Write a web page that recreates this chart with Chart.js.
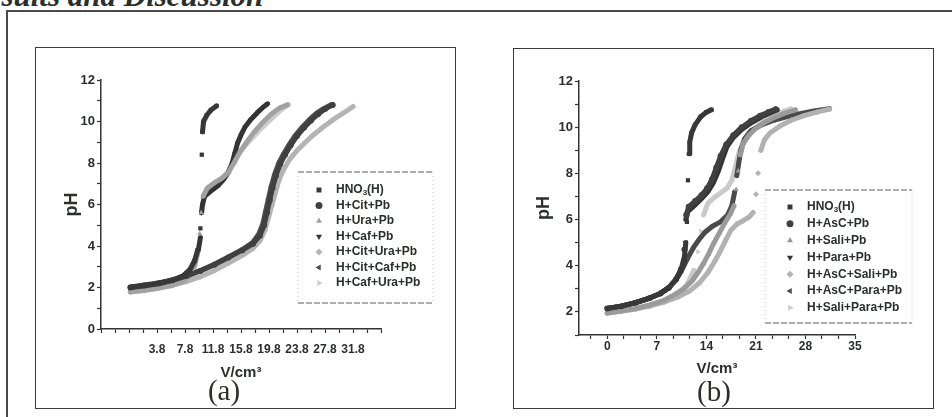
<!DOCTYPE html>
<html>
<head>
<meta charset="utf-8">
<script src="https://cdn.jsdelivr.net/npm/chart.js@4.4.0/dist/chart.umd.min.js"></script>
<style>
  body { margin:0; width:952px; height:417px; background:#fff; position:relative; overflow:hidden; }
  .head { position:absolute; left:-33px; top:-19px; font:italic bold 31px "Liberation Serif", serif; line-height:30px; color:#2b2f2b; white-space:nowrap; }
  .frame { position:absolute; left:6px; top:10px; width:960px; height:420px; border-left:2px solid #4a4a4a; border-top:2px solid #4a4a4a; }
  .box { position:absolute; box-sizing:border-box; border:1.5px solid #3a3a3a; }
  canvas { position:absolute; }
  .tag { position:absolute; width:60px; text-align:center; font:29px "Liberation Serif", serif; line-height:28px; color:#2b2f2b; }
</style>
</head>
<body>
<div class="head">Results and Discussion</div>
<div class="frame"></div>
<div class="box" style="left:35px;top:47px;width:421px;height:362px"></div>
<div class="box" style="left:513px;top:48px;width:421px;height:361px"></div>
<canvas id="chartA" width="420" height="361" style="left:35px;top:47px"></canvas>
<canvas id="chartB" width="420" height="360" style="left:513px;top:48px"></canvas>
<div class="tag" style="left:194px;top:376px">(a)</div>
<div class="tag" style="left:684px;top:377px">(b)</div>
<script>
const INK = '#2b2f2b'

// ---- panel (a) data : [V/cm3, pH]
const labelsA = ['HNO₃(H)', 'H+Cit+Pb', 'H+Ura+Pb', 'H+Caf+Pb', 'H+Cit+Ura+Pb', 'H+Cit+Caf+Pb', 'H+Caf+Ura+Pb']
const hno3A = [[0,2.0],[2,2.08],[4,2.18],[6,2.35],[7.5,2.55],[8.5,2.85],[9.2,3.3],[9.6,3.8],[10.0,4.85],[10.2,8.4],[10.3,9.5],[10.45,10.0],[10.9,10.3],[11.5,10.55],[12.3,10.75]]
const citA = [[0,2.0],[2,2.1],[4,2.2],[6,2.35],[8,2.55],[10,2.8],[12,3.1],[14,3.45],[16,3.8],[17.5,4.1],[18.5,4.5],[19.1,5.0],[19.5,5.6],[19.9,6.2],[20.3,6.8],[20.8,7.4],[21.4,7.95],[22.1,8.4],[22.9,8.85],[23.8,9.3],[24.8,9.7],[25.8,10.05],[26.8,10.35],[27.8,10.6],[28.9,10.8]]
const uraA = [[0,1.8],[2,1.88],[4,1.98],[6,2.12],[7.5,2.3],[8.5,2.6],[9.2,3.1],[9.6,3.7],[9.9,4.6],[10.1,5.6],[10.4,6.4],[11.0,6.8],[12.0,7.05],[13.0,7.25],[14.0,7.55],[14.8,8.0],[15.6,8.5],[16.6,9.0],[17.7,9.5],[18.9,9.95],[20.1,10.35],[21.3,10.65],[22.4,10.8]]
const cafA = [[0,2.0],[2,2.08],[4,2.18],[6,2.35],[7.5,2.55],[8.5,2.85],[9.2,3.3],[9.7,3.8],[10.0,4.4],[10.15,5.6],[10.3,6.0],[10.6,6.4],[11.5,6.65],[12.5,6.9],[13.3,7.2],[13.9,7.5],[14.5,7.95],[14.9,8.45],[15.3,8.95],[15.8,9.35],[16.4,9.75],[17.2,10.1],[18.2,10.45],[19.0,10.7],[19.6,10.85]]
const citUraA = [[0,1.78],[2,1.86],[4,1.96],[6,2.1],[8,2.28],[10,2.52],[12,2.82],[14,3.18],[16,3.55],[17.5,3.88],[18.5,4.25],[19.2,4.75],[19.7,5.35],[20.2,5.95],[20.7,6.55],[21.2,7.15],[21.9,7.7],[22.8,8.2],[23.8,8.6],[25.0,9.0],[26.3,9.4],[27.6,9.75],[29.0,10.1],[30.4,10.4],[31.8,10.72]]
const citCafA = [[0,2.02],[2,2.12],[4,2.22],[6,2.37],[8,2.57],[10,2.82],[12,3.12],[14,3.47],[16,3.83],[17.4,4.15],[18.3,4.55],[18.9,5.05],[19.3,5.65],[19.7,6.25],[20.1,6.85],[20.6,7.45],[21.2,8.0],[21.9,8.45],[22.7,8.9],[23.6,9.35],[24.6,9.75],[25.6,10.1],[26.6,10.4],[27.6,10.62],[28.6,10.8]]
const cafUraA = [[0,1.8],[2,1.87],[4,1.97],[6,2.1],[7.5,2.28],[8.5,2.55],[9.2,3.0],[9.6,3.6],[9.9,4.5],[10.2,5.6],[10.5,6.3],[10.9,6.7],[11.9,7.0],[13.0,7.25],[14.0,7.55],[14.8,8.05],[15.8,8.6],[17.1,9.1],[18.5,9.6],[19.9,10.05],[21.3,10.5],[22.6,10.82]]
const xTicksA = [-4.2,-2.2,-0.2,1.8,3.8,5.8,7.8,9.8,11.8,13.8,15.8,17.8,19.8,21.8,23.8,25.8,27.8,29.8,31.8,33.8,35.8]
const xLabelsA = [3.8,7.8,11.8,15.8,19.8,23.8,27.8,31.8]
const yTicksA = [0,1,2,3,4,5,6,7,8,9,10,11,12]
const yLabelsA = [0,2,4,6,8,10,12]

// ---- panel (b) data : [V/cm3, pH]
const labelsB = ['HNO₃(H)', 'H+AsC+Pb', 'H+Sali+Pb', 'H+Para+Pb', 'H+AsC+Sali+Pb', 'H+AsC+Para+Pb', 'H+Sali+Para+Pb']
const hno3B = [[0,2.15],[2,2.25],[4,2.4],[6,2.6],[7.5,2.8],[8.7,3.05],[9.7,3.4],[10.4,3.8],[10.9,4.4],[11.1,5.0],[11.25,5.9],[11.4,7.7],[11.55,8.85],[11.65,9.35],[11.9,9.75],[12.4,10.1],[13.2,10.45],[14.0,10.65],[14.7,10.75]]
const ascB = [[0,2.15],[2,2.25],[4,2.4],[6,2.6],[7.5,2.8],[8.7,3.05],[9.7,3.4],[10.4,3.85],[10.9,4.7],[11.15,6.2],[11.5,6.55],[12.4,6.8],[13.3,7.05],[14.1,7.35],[14.8,7.75],[15.4,8.25],[16.0,8.75],[16.8,9.25],[17.8,9.65],[19.0,10.0],[20.3,10.28],[21.6,10.5],[22.8,10.66],[23.8,10.78]]
const saliB = [[0,1.95],[2,2.05],[4,2.15],[6,2.3],[8,2.5],[9.5,2.75],[10.8,3.0],[12.0,3.35],[12.9,3.75],[13.6,4.1],[14.3,4.5],[15.0,4.95],[15.8,5.4],[16.6,5.85],[17.4,6.25],[17.9,6.6],[18.2,7.3],[18.5,8.1],[18.8,8.8],[19.2,9.3],[20.0,9.65],[21.0,9.95],[22.2,10.2],[23.6,10.42],[25.0,10.6],[26.6,10.75]]
const paraB = [[0,2.15],[2,2.25],[4,2.4],[6,2.6],[7.5,2.8],[8.7,3.05],[9.7,3.4],[10.4,3.75],[10.9,4.2],[11.0,5.0],[11.1,6.0],[11.4,6.35],[12.3,6.6],[13.3,6.9],[14.2,7.2],[15.0,7.6],[15.7,8.1],[16.3,8.65],[16.9,9.15],[17.8,9.55],[19.0,9.9],[20.4,10.2],[21.8,10.45],[23.0,10.62],[24.0,10.75]]
const ascSaliB = [[0,1.95],[2,2.03],[4,2.12],[6,2.25],[8,2.42],[10,2.65],[11.6,2.9],[13.0,3.25],[14.2,3.7],[15.2,4.2],[16.0,4.65],[16.8,5.15],[17.5,5.55],[18.3,5.8],[19.2,5.95],[20.0,6.1],[20.6,6.3],[21.0,7.1],[21.3,8.0],[21.7,9.0],[22.2,9.45],[23.0,9.75],[24.4,10.05],[26.0,10.3],[27.8,10.5],[29.6,10.65],[31.4,10.78]]
const ascParaB = [[0,2.15],[2,2.25],[4,2.4],[6,2.6],[7.5,2.8],[8.7,3.05],[9.7,3.4],[10.5,3.8],[11.4,4.35],[12.2,4.8],[13.0,5.15],[13.8,5.45],[14.8,5.7],[16.0,5.9],[17.0,6.2],[17.6,6.6],[18.0,7.2],[18.3,7.9],[18.6,8.5],[18.9,9.05],[19.4,9.5],[20.3,9.85],[21.8,10.1],[23.5,10.3],[25.3,10.45],[27.2,10.58],[29.2,10.7],[31.4,10.8]]
const saliParaB = [[0,1.95],[2,2.04],[4,2.14],[6,2.28],[8,2.48],[10,2.78],[11.3,3.2],[12.2,3.8],[12.8,4.6],[13.2,5.5],[13.6,6.2],[14.2,6.7],[15.1,6.95],[16.0,7.15],[16.9,7.35],[17.6,7.7],[18.1,8.3],[18.6,8.9],[19.3,9.35],[20.2,9.75],[21.4,10.1],[22.8,10.4],[24.4,10.62],[26.0,10.8]]
const xTicksB = [-2.33,0,2.33,4.67,7,9.33,11.67,14,16.33,18.67,21,23.33,25.67,28,30.33,32.67,35]
const xLabelsB = [0,7,14,21,28,35]
const yTicksB = [1,2,3,4,5,6,7,8,9,10,11,12]
const yLabelsB = [2,4,6,8,10,12]

// marker look, same order in both panels
const colorsA = ['#383838','#404040','#a2a2a2','#343434','#b4b4b4','#4c4c4c','#cdcdcd']
const colorsB = ['#383838','#404040','#9a9a9a','#343434','#b2b2b2','#4a4a4a','#cacaca']
const shapes = ['rect','circle','triangle','triangle','rectRot','triangle','triangle']
const rotations = [0,0,0,180,0,270,90]

Chart.defaults.font.family = "'Liberation Sans', Arial, sans-serif"
Chart.defaults.color = INK

// titration steps: big jumps show only the markers
function jumpGap(ctx) {
  const d = Math.hypot(ctx.p1.x - ctx.p0.x, ctx.p1.y - ctx.p0.y)
  return d > 16 ? 'rgba(0,0,0,0)' : undefined
}

function drawLabel(ctx, text, x, y) {
  const subs = '₀₁₂₃₄₅₆₇₈₉'
  for (const ch of text) {
    const k = subs.indexOf(ch)
    if (k >= 0) {
      ctx.font = "bold 8px 'Liberation Sans', Arial"
      ctx.fillText(String(k), x, y + 3)
      x += ctx.measureText(String(k)).width
    } else {
      ctx.font = "bold 12px 'Liberation Sans', Arial"
      ctx.fillText(ch, x, y)
      x += ctx.measureText(ch).width
    }
  }
}

// legend box drawn inside the plot, like the original figure
const boxLegend = {
  id: 'boxLegend',
  afterDraw(chart, args, o) {
    const {ctx, chartArea: a} = chart
    const x0 = a.left + o.left, y0 = a.top + o.top
    ctx.save()
    ctx.lineWidth = 1
    ctx.strokeStyle = '#5a5a5a'
    ctx.setLineDash([6, 2])
    ctx.beginPath()
    ctx.moveTo(x0, y0); ctx.lineTo(x0 + o.width, y0)
    ctx.moveTo(x0, y0 + o.height); ctx.lineTo(x0 + o.width, y0 + o.height)
    ctx.stroke()
    ctx.strokeStyle = '#c4c4c4'
    ctx.setLineDash([1, 3])
    ctx.beginPath()
    ctx.moveTo(x0, y0); ctx.lineTo(x0, y0 + o.height)
    ctx.moveTo(x0 + o.width, y0); ctx.lineTo(x0 + o.width, y0 + o.height)
    ctx.stroke()
    ctx.setLineDash([])
    ctx.textBaseline = 'middle'
    chart.data.datasets.forEach((ds, i) => {
      const y = y0 + o.first + i * o.step
      ctx.fillStyle = ds.backgroundColor
      Chart.helpers.drawPoint(ctx, {pointStyle: ds.pointStyle, rotation: ds.pointRotation, radius: 3.5, borderWidth: 0}, x0 + o.mark, y)
      ctx.fillStyle = INK
      drawLabel(ctx, ds.label, x0 + o.text, y)
    })
    ctx.restore()
  }
}

function makeSets(labels, series, colors) {
  return labels.map((lab, i) => ({
    label: lab,
    data: series[i].map(p => ({x: p[0], y: p[1]})),
    showLine: true,
    borderColor: colors[i],
    backgroundColor: colors[i],
    borderWidth: 5,
    borderCapStyle: 'round',
    borderJoinStyle: 'round',
    pointStyle: shapes[i],
    pointRotation: rotations[i],
    pointRadius: 3,
    pointBorderWidth: 0,
    segment: {borderColor: jumpGap}
  }))
}

function axis(min, max, tickList, labelList, fmt, title, titleSize, tickSize, pad, fit) {
  return {
    type: 'linear', min: min, max: max,
    afterBuildTicks: s => { s.ticks = tickList.map(v => ({value: v})) },
    afterFit: fit,
    ticks: {autoSkip: false, maxRotation: 0, padding: pad, color: INK,
      font: {size: tickSize, weight: 'bold'},
      callback: v => labelList.includes(v) ? fmt(v) : ''},
    grid: {drawOnChartArea: false, tickLength: 4, tickColor: '#333', tickWidth: 1.2},
    border: {color: '#333', width: 1.5},
    title: {display: true, text: title, color: INK, padding: 0, font: {size: titleSize, weight: 'bold'}}
  }
}

function RepoChart(id, sets, padding, scales, legend) {
  new Chart(document.getElementById(id), {
    type: 'scatter',
    data: {datasets: sets},
    options: {
      responsive: false,
      animation: false,
      layout: {padding: padding},
      plugins: {legend: {display: false}, tooltip: {enabled: false}, boxLegend: legend},
      scales: scales
    },
    plugins: [boxLegend]
  })
}

// PANEL (a)
RepoChart('chartA',
  makeSets(labelsA, [hno3A, citA, uraA, cafA, citUraA, citCafA, cafUraA], colorsA),
  {left: 26, top: 33, right: 74, bottom: 26},
  {
    x: axis(-4.2, 35.8, xTicksA, xLabelsA, v => v.toFixed(1), 'V/cm³', 15, 12, 9, s => { s.height = 53 }),
    y: axis(0, 12, yTicksA, yLabelsA, v => String(v), 'pH', 18, 13, 2, s => { s.width = 40 })
  },
  {left: 197, top: 92, width: 135, height: 131, first: 18, step: 15.5, mark: 21, text: 38})

// PANEL (b)
RepoChart('chartB',
  makeSets(labelsB, [hno3B, ascB, saliB, paraB, ascSaliB, ascParaB, saliParaB], colorsB),
  {left: 20, top: 33, right: 78, bottom: 30},
  {
    x: axis(-4, 35, xTicksB, xLabelsB, v => String(v), 'V/cm³', 15, 12, 0, s => { s.height = 43 }),
    y: axis(1, 12, yTicksB, yLabelsB, v => String(v), 'pH', 18, 13, 2, s => { s.width = 46 })
  },
  {left: 186, top: 109, width: 147, height: 133, first: 17, step: 16.8, mark: 25, text: 42})
</script>
</body>
</html>
